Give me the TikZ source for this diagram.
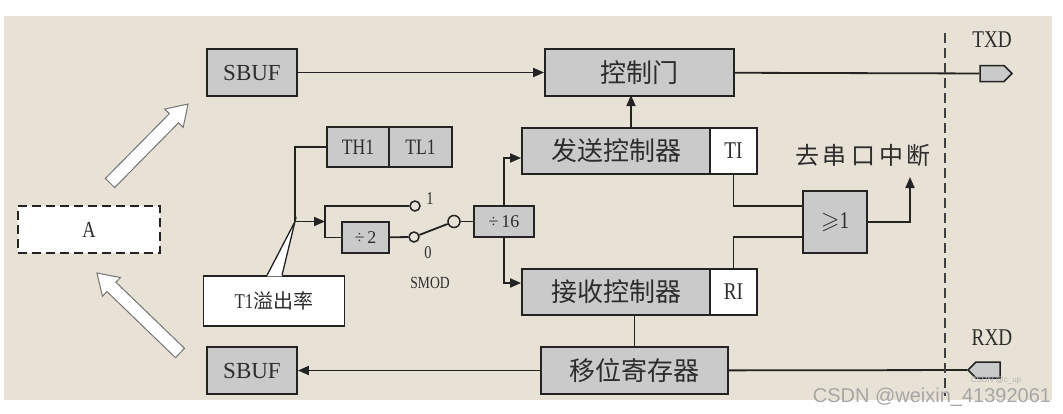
\documentclass[tikz,border=0pt]{standalone}
\usepackage{fontspec}
\usepackage{amssymb}
\setmainfont{Liberation Serif}
\newfontfamily\cond{Liberation Serif}[FakeStretch=0.8]
\newfontfamily\cjk{Noto Sans CJK SC}
\newfontfamily\wmfont{Liberation Sans}
\usetikzlibrary{arrows.meta,calc,shapes.symbols}
\definecolor{bg}{RGB}{232,226,214}
\definecolor{boxgray}{RGB}{202,202,202}
\definecolor{ink}{RGB}{35,35,35}
\definecolor{txt}{RGB}{45,45,45}
\newcommand\fsz[1]{\fontsize{#1}{#1}\selectfont}
\begin{document}
\begin{tikzpicture}[x=1pt,y=-1pt,
  box/.style={draw=ink, line width=1.8pt, fill=boxgray, inner sep=0pt, text=txt},
  wbox/.style={box, fill=white},
  wire/.style={draw=ink, line width=1.8pt},
  arr/.style={wire, -{Triangle[length=11pt,width=9pt]}},
  pin/.style={circle, draw=ink, line width=1.5pt, fill=bg, minimum size=10pt, inner sep=0pt},
  harrow/.style={draw=black!55, line width=1pt, fill=white, line join=miter},
  lbl/.style={text=txt, inner sep=0pt},
  port/.style={shape=signal, draw=ink, line width=1.5pt, fill=boxgray, minimum width=32pt, minimum height=16pt, inner sep=0pt}
]
\useasboundingbox (0,0) rectangle (1063,413);
\fill[bg] (4,16) rectangle (1052,400);

% hollow arrows
\coordinate (ua1) at (110,183); \coordinate (ua2) at (188,104);
\coordinate (uab) at ($(ua2)!20pt!(ua1)$);
\draw[harrow] ($(ua1)!6.5pt!90:(ua2)$) -- ($(uab)!6.5pt!-90:(ua1)$) -- ($(uab)!13pt!-90:(ua1)$) -- (ua2)
   -- ($(uab)!13pt!90:(ua1)$) -- ($(uab)!6.5pt!90:(ua1)$) -- ($(ua1)!6.5pt!-90:(ua2)$) -- cycle;
\coordinate (la1) at (180,353); \coordinate (la2) at (97,273);
\coordinate (lab) at ($(la2)!20pt!(la1)$);
\draw[harrow] ($(la1)!6.5pt!90:(la2)$) -- ($(lab)!6.5pt!-90:(la1)$) -- ($(lab)!13pt!-90:(la1)$) -- (la2)
   -- ($(lab)!13pt!90:(la1)$) -- ($(lab)!6.5pt!90:(la1)$) -- ($(la1)!6.5pt!-90:(la2)$) -- cycle;

% A
\node[draw=ink, line width=2pt, dash pattern=on 9pt off 5pt, fill=white, minimum width=142pt, minimum height=47pt, inner sep=0pt, text=txt] (A) at (89,229.5) {\cond\fsz{23}A};

% boxes
\node[box, minimum width=90pt, minimum height=47pt] (sbt) at (252,72.5) {\fsz{23}SBUF};
\node[box, minimum width=189pt, minimum height=47pt] (kz) at (639.5,72.5) {\cjk\fsz{26}控制门};
\node[box, minimum width=62pt, minimum height=40pt] (th) at (358,147) {\cond\fsz{22}TH1};
\node[box, minimum width=63pt, minimum height=40pt] (tl) at (420.5,147) {\cond\fsz{22}TL1};
\node[box, minimum width=47pt, minimum height=31pt] (d2) at (365.5,237.5) {\fsz{18}÷\,2};
\node[box, minimum width=60pt, minimum height=31pt] (d16) at (504,221.5) {\fsz{18}÷\,16};
\node[box, minimum width=188pt, minimum height=46pt] (fs) at (616,151) {\cjk\fsz{26}发送控制器};
\node[wbox, minimum width=47pt, minimum height=46pt] (ti) at (733.5,151) {\cond\fsz{24}TI};
\node[box, minimum width=188pt, minimum height=46pt] (rs) at (616,292) {\cjk\fsz{26}接收控制器};
\node[wbox, minimum width=47pt, minimum height=46pt] (ri) at (733.5,292) {\cond\fsz{24}RI};
\node[box, minimum width=64pt, minimum height=62pt] (ge) at (835,222) {\fsz{24}$\geqslant$\cond 1};
\node[box, minimum width=187pt, minimum height=47pt] (yw) at (634.5,370.5) {\cjk\fsz{26}移位寄存器};
\node[box, minimum width=90pt, minimum height=47pt] (sbb) at (252,370.5) {\fsz{23}SBUF};

% ports
\node[port, signal to=east] (txd) at (992,73.5) {};
\node[port, signal to=west] (rxd) at (988,370) {};
\node[lbl] (txdl) at (992,40) {\cond\fsz{24}TXD};
\node[lbl] (rxdl) at (992,338) {\cond\fsz{24}RXD};

% switch
\coordinate (jn) at (295,221.5);
\coordinate (br) at (325,221.5);
\node[pin] (s1) at (415,206) {};
\node[pin] (s0) at (414,237) {};
\node[pin, minimum size=12pt] (sp) at (454,221.5) {};
\node[lbl] (l1) at (430,199) {\cond\fsz{18}1};
\node[lbl] (l0) at (428,253) {\cond\fsz{18}0};
\node[lbl] (smod) at (430,283) {\cond\fsz{17}SMOD};

% callout
\node[draw=ink, line width=1.3pt, fill=white, minimum width=141pt, minimum height=50pt, inner sep=0pt, text=txt] (t1) at (274,301) {\cond\fsz{21}T1\cjk\fsz{20}溢出率};
\fill[white] ($(t1.north)+(-7,1)$) -- (jn) -- ($(t1.north)+(8,1)$) -- cycle;
\draw[draw=ink, line width=1.3pt] ($(t1.north)+(-7,0)$) -- (jn) -- ($(t1.north)+(8,0)$);

% wires
\draw[arr] (sbt) -- (kz);
\draw[wire] (kz) -- (txd);
\draw[wire] (th.west) -| (jn);
\draw[arr] (jn) -- (br);
\draw[wire] (s1) -| (br) |- (d2);
\draw[wire] (d2) -- (s0);
\draw[wire] (s0) -- (sp);
\draw[wire] (sp) -- (d16);
\draw[arr] (d16.north) |- ($(fs.west)+(0,7)$);
\draw[arr] (d16.south) |- ($(rs.west)+(0,-9)$);
\draw[arr] ($(fs.north)+(15,0)$) -- ($(fs.north)+(15,-32)$);
\draw[wire] (ti.south) |- ($(ge.west)+(0,-16)$);
\draw[wire] (ri.north) |- ($(ge.west)+(0,15)$);
\coordinate (intr) at (910,177);
\draw[arr] (ge.east) -| (intr);
\node[lbl] (qu) at (863,155) {\cjk\fsz{24}去\hspace{4pt}串\hspace{4pt}口\hspace{4pt}中\hspace{4pt}断};
\draw[wire] (yw.north) -- (yw.north |- rs.south);
\draw[arr] (yw) -- (sbb);
\draw[wire] (yw) -- (rxd);

% boundary
\coordinate (dt) at (945,33); \coordinate (db) at (945,396);
\draw[draw=black!75, line width=2.4pt, dash pattern=on 10pt off 5pt] (dt) -- (db);

% watermark
\node[lbl, text=black!30] (wm1) at (996,380) {\wmfont\fsz{8}CSDN @c\_up};
\node[lbl, text=black!35] (wm2) at (932,397) {\wmfont\fsz{20}CSDN @weixin\_41392061};
\end{tikzpicture}
\end{document}
